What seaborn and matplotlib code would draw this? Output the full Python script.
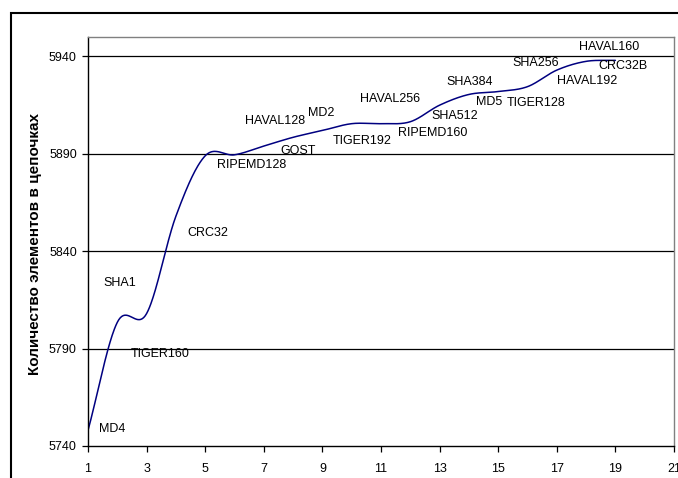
import numpy as np
import pandas as pd
import matplotlib
matplotlib.use("Agg")
import matplotlib.pyplot as plt
from matplotlib.patches import Rectangle
import seaborn as sns

# ---- data ----
algorithms = ["MD4", "SHA1", "TIGER160", "CRC32", "RIPEMD128", "GOST", "HAVAL128",
              "MD2", "TIGER192", "HAVAL256", "RIPEMD160", "SHA512", "SHA384", "MD5",
              "TIGER128", "SHA256", "HAVAL192", "CRC32B", "HAVAL160"]
positions = list(range(1, 20))
counts = [5748, 5803.5, 5808, 5858, 5889, 5889.5, 5894, 5898.5, 5902, 5905.5,
          5905.5, 5906.5, 5915, 5920.5, 5922, 5924.5, 5933, 5937.5, 5938]
# label anchor positions (data coords)
label_x = [1.38, 1.53, 2.47, 4.38, 5.41, 7.55, 6.35, 8.52, 9.34, 10.28,
           11.57, 12.72, 13.23, 14.23, 15.30, 15.48, 17.02, 18.42, 17.77]
label_y = [5748.9, 5823.9, 5787.1, 5849.2, 5884.5, 5891.7, 5906.8, 5911.2, 5896.5, 5918.1,
           5900.6, 5909.2, 5926.8, 5916.5, 5916.0, 5936.7, 5927.3, 5934.9, 5944.8]
x_ticks = list(range(1, 22, 2))
y_ticks = [5740, 5790, 5840, 5890, 5940]
y_title = "Количество элементов в цепочках"


def smooth(xv, yv, n=40):
    """Catmull-Rom smoothing (like a spreadsheet 'smoothed line')."""
    xv = np.asarray(xv, float)
    yv = np.asarray(yv, float)
    xs, ys = [], []
    N = len(xv)
    for i in range(N - 1):
        y0 = yv[i - 1] if i > 0 else yv[i]
        y3 = yv[i + 2] if i + 2 < N else yv[i + 1]
        m0 = (yv[i + 1] - y0) / (2 if i > 0 else 1)
        m1 = (y3 - yv[i]) / (2 if i + 2 < N else 1)
        t = np.linspace(0, 1, n, endpoint=False)
        h00 = 2 * t**3 - 3 * t**2 + 1
        h10 = t**3 - 2 * t**2 + t
        h01 = -2 * t**3 + 3 * t**2
        h11 = t**3 - t**2
        xs.append(xv[i] + t * (xv[i + 1] - xv[i]))
        ys.append(h00 * yv[i] + h10 * m0 + h01 * yv[i + 1] + h11 * m1)
    xs.append([xv[-1]])
    ys.append([yv[-1]])
    return np.concatenate(xs), np.concatenate(ys)


sns.set_theme(style="white")
plt.rcParams["font.family"] = ["Liberation Sans", "DejaVu Sans"]

fig = plt.figure(figsize=(6.78, 4.78), dpi=100)
fig.patch.set_facecolor("white")
ax = fig.add_axes([88 / 678, 1 - 446 / 478, (674 - 88) / 678, (446 - 37) / 478])

sx, sy = smooth(positions, counts)
df = pd.DataFrame({"x": sx, "y": sy})
sns.lineplot(data=df, x="x", y="y", ax=ax, color="#000080", linewidth=1.1,
             sort=False, estimator=None)

for name, lx, ly in zip(algorithms, label_x, label_y):
    ax.text(lx, ly, name, ha="left", va="center", fontsize=9, color="black")

ax.set_xlim(1, 21)
ax.set_ylim(5740, 5950)
ax.set_xticks(x_ticks)
ax.set_yticks(y_ticks)
ax.set_xticklabels([str(v) for v in x_ticks], fontsize=9)
ax.set_yticklabels([str(v) for v in y_ticks], fontsize=9)
ax.set_xlabel("")
ax.set_ylabel("")

ax.grid(False)
for yv in y_ticks[1:]:
    ax.axhline(yv, color="black", linewidth=0.9, zorder=0)

for s in ["left", "bottom"]:
    ax.spines[s].set_color("black")
    ax.spines[s].set_linewidth(1.0)
for s in ["top", "right"]:
    ax.spines[s].set_color("#808080")
    ax.spines[s].set_linewidth(1.0)

ax.tick_params(axis="both", which="major", direction="out", length=4, width=0.9,
               color="black", labelcolor="black", bottom=True, left=True)
ax.tick_params(axis="x", pad=8)
ax.tick_params(axis="y", pad=4)

fig.text(35 / 678, 1 - 244 / 478, y_title, rotation=90, ha="center", va="center",
         fontsize=11, fontweight="bold", color="black")

# outer chart frame
fig.patches.append(Rectangle((11 / 678, -0.2), 1.5, 0.2 + (1 - 13 / 478),
                             transform=fig.transFigure, fill=False,
                             edgecolor="black", linewidth=1.5))

fig.savefig("out.png", dpi=100)
